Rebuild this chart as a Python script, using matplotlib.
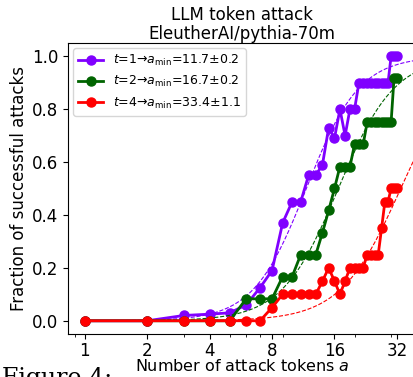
import numpy as np
import matplotlib.pyplot as plt
from matplotlib.ticker import NullFormatter

# number of attack tokens
a = list(range(1, 33))

# fraction of successful attacks per target length t
frac_t1 = [0, 0, 0.02, 0.025, 0.03, 0.06, 0.125, 0.19, 0.37, 0.45, 0.45, 0.55, 0.55, 0.59, 0.73, 0.69,
           0.80, 0.70, 0.80, 0.80, 0.90, 0.90, 0.90, 0.90, 0.90, 0.90, 0.90, 0.90, 0.90, 1.0, 1.0, 1.0]
frac_t2 = [0, 0, 0, 0, 0, 0.083, 0.083, 0.083, 0.167, 0.167, 0.25, 0.25, 0.25, 0.333, 0.417, 0.5,
           0.583, 0.583, 0.583, 0.667, 0.667, 0.667, 0.75, 0.75, 0.75, 0.75, 0.75, 0.75, 0.75, 0.75, 0.917, 0.917]
frac_t4 = [0, 0, 0, 0, 0, 0, 0, 0.05, 0.1, 0.1, 0.1, 0.1, 0.1, 0.15, 0.2, 0.15,
           0.1, 0.15, 0.2, 0.2, 0.2, 0.2, 0.25, 0.25, 0.25, 0.25, 0.35, 0.45, 0.45, 0.5, 0.5, 0.5]

# fitted a_min (50% point) and slope of the sigmoid fit in log(a)
t_values = [1, 2, 4]
a_min = [11.7, 16.7, 33.4]
a_min_err = [0.2, 0.2, 1.1]
slopes = [3.4, 3.2, 3.0]
colors = ["#8000ff", "darkgreen", "red"]

fig = plt.figure(figsize=(4.13, 3.77), dpi=100)
ax = fig.add_axes([68/413, 43/377, 349/413, 291/377])

a_fit = np.geomspace(1, 40, 200)
for t, frac, am, err, k, c in zip(t_values, [frac_t1, frac_t2, frac_t4], a_min, a_min_err, slopes, colors):
    ax.plot(a, frac, "-o", color=c, lw=2, ms=6.5,
            label=r"$t$=%d→$a_{\rm min}$=%.1f±%.1f" % (t, am, err))
    ax.plot(a_fit, 1 / (1 + (am / a_fit) ** k), "--", color=c, lw=0.8)

ax.set_xscale("log")
ax.set_xticks([1, 2, 4, 8, 16, 32], ["1", "2", "4", "8", "16", "32"])
ax.xaxis.set_minor_formatter(NullFormatter())
ax.set_xlim(0.83, 40)
ax.set_ylim(-0.05, 1.05)
ax.set_yticks([0, 0.2, 0.4, 0.6, 0.8, 1.0])
ax.tick_params(labelsize=12)
ax.tick_params(axis="x", pad=2)
ax.set_xlabel("Number of attack tokens $a$", fontsize=11.5, labelpad=-1)
ax.set_ylabel("Fraction of successful attacks", fontsize=12, labelpad=3)
ax.set_title("LLM token attack\nEleutherAI/pythia-70m", fontsize=12, pad=3, x=(242-68)/349,
             linespacing=1.05)
ax.legend(loc="upper left", fontsize=9, borderaxespad=0.4)

fig.text(0.005, -0.035, "Figure 4:", family="serif", fontsize=17, va="bottom")

plt.savefig("out.png", dpi=100)
